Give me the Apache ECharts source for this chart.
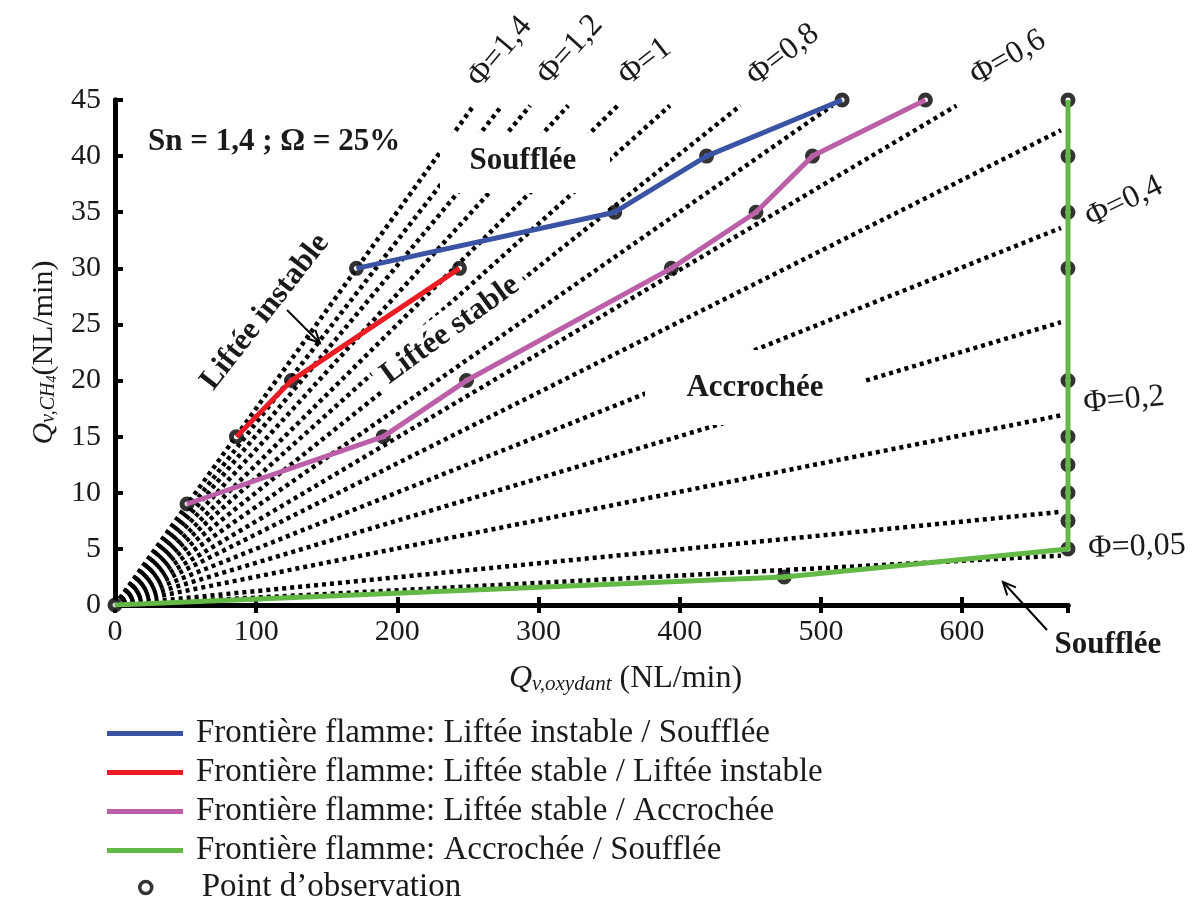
<!DOCTYPE html>
<html><head><meta charset="utf-8">
<script src="https://cdn.jsdelivr.net/npm/echarts@6/dist/echarts.min.js"></script>
<style>html,body{margin:0;padding:0;background:#fff}#c{width:1195px;height:901px}</style>
</head><body><div id="c"></div>
<script>
// ---------- axes ----------
const xMin = 0, xMax = 675, xStep = 100;
const yMin = 0, yMax = 45, yStep = 5;

// ---------- flame boundaries ----------
const blueX = [171, 354, 419, 515];
const blueY = [30, 35, 40, 45];
const redX = [86, 125, 244];
const redY = [15, 20, 30];
const pinkX = [51, 190, 249, 394, 454, 494, 574];
const pinkY = [9, 15, 20, 30, 35, 40, 45];
const greenX = [0, 474, 675, 675];
const greenY = [0, 2.5, 5, 45];
// extra observation points (on the green vertical boundary)
const obsExtraX = [675, 675, 675, 675, 675, 675, 675, 675];
const obsExtraY = [7.5, 10, 12.5, 15, 20, 30, 35, 40];

// ---------- equivalence-ratio lines (end points) ----------
const phiValues = [1.4, 1.3, 1.2, 1.1, 1.0, 0.9, 0.8, 0.7, 0.6, 0.5, 0.4, 0.3, 0.2, 0.1, 0.05];
const phiEndX = [254, 274, 294, 321, 356, 393, 443, 508, 596, 670, 670, 670, 670, 670, 670];
const phiEndY = [44.5, 44.5, 44.5, 44.5, 44.5, 44.5, 44.5, 44.5, 44.5, 42.3, 33.6, 25.2, 16.9, 8.3, 4.4];

// ---------- texts ----------
const seriesNames = [
  'Frontière flamme: Liftée instable / Soufflée',
  'Frontière flamme: Liftée stable / Liftée instable',
  'Frontière flamme: Liftée stable / Accrochée',
  'Frontière flamme: Accrochée / Soufflée'
];
const obsName = 'Point d’observation';
const colors = ['#3a53a4', '#ec1c24', '#bb5fa8', '#62b946'];

const serif = '"Liberation Serif","Times New Roman","DejaVu Serif",serif';
const ink = '#1a1a1a';

const zip = (xs, ys) => xs.map((x, i) => [x, ys[i]]);

const series = [];
phiValues.forEach((p, i) => {
  series.push({
    type: 'line', name: 'phi' + p, data: [[0, 0], [phiEndX[i], phiEndY[i]]],
    symbol: 'none', silent: true, z: 1, animation: false,
    lineStyle: { color: '#000', width: 4.5, type: [4, 4], cap: 'butt' }
  });
});
// observation points
const obsPts = [].concat(zip(blueX, blueY), zip(redX, redY), zip(pinkX, pinkY), zip(greenX, greenY), zip(obsExtraX, obsExtraY));
series.push({
  type: 'scatter', name: obsName, data: obsPts, symbol: 'circle', symbolSize: 10, z: 4,
  itemStyle: { color: '#fff', borderColor: '#000', borderWidth: 5 }, animation: false
});
[[blueX, blueY], [redX, redY], [pinkX, pinkY], [greenX, greenY]].forEach((d, i) => {
  series.push({
    type: 'line', name: seriesNames[i], data: zip(d[0], d[1]), symbol: 'none', z: 5,
    color: colors[i], lineStyle: { color: colors[i], width: 5 }, animation: false
  });
});

function arrow(x1, y1, x2, y2) {
  const L = Math.hypot(x2 - x1, y2 - y1), ux = (x1 - x2) / L, uy = (y1 - y2) / L;
  const a = 25 * Math.PI / 180, h = 14;
  const b1 = [x2 + h * (ux * Math.cos(a) - uy * Math.sin(a)), y2 + h * (ux * Math.sin(a) + uy * Math.cos(a))];
  const b2 = [x2 + h * (ux * Math.cos(a) + uy * Math.sin(a)), y2 + h * (-ux * Math.sin(a) + uy * Math.cos(a))];
  return [
    { type: 'line', z: 6, shape: { x1, y1, x2, y2 }, style: { stroke: '#000', lineWidth: 2 } },
    { type: 'polyline', z: 6, shape: { points: [b1, [x2, y2], b2] }, style: { stroke: '#000', lineWidth: 2, fill: null } }
  ];
}
const deg = d => d * Math.PI / 180;
function txt(s, x, y, opts) {
  return Object.assign({
    type: 'text', x, y, z: 6,
    style: Object.assign({ text: s, font: '32px ' + serif, fill: ink, align: 'center', verticalAlign: 'middle' }, opts && opts.style || {})
  }, opts && opts.el || {});
}

const graphics = [
  { type: 'rect', z: 3, shape: { x: 440, y: 133, width: 170, height: 60 }, style: { fill: '#fff' } },
  { type: 'rect', z: 3, shape: { x: 645, y: 350, width: 220, height: 75 }, style: { fill: '#fff' } },
  txt('Sn = 1,4 ; Ω = 25%', 148, 142, { style: { font: 'bold 31px ' + serif, align: 'left' } }),
  txt('Soufflée', 523, 161, { style: { font: 'bold 31px ' + serif } }),
  txt('Accrochée', 755, 388, { style: { font: 'bold 31px ' + serif } }),
  txt('Liftée stable', 450, 330, { style: { font: 'bold 31px ' + serif, backgroundColor: '#fff', padding: [4, 8] }, el: { rotation: deg(36) } }),
  txt('Liftée instable', 265, 312, { style: { font: 'bold 31px ' + serif }, el: { rotation: deg(52) } }),
  txt('Soufflée', 1108, 645, { style: { font: 'bold 31px ' + serif } }),
  txt('Φ=1,4', 500, 52, { el: { rotation: deg(50) } }),
  txt('Φ=1,2', 570, 50, { el: { rotation: deg(48) } }),
  txt('Φ=1', 645, 62, { el: { rotation: deg(38) } }),
  txt('Φ=0,8', 783, 55, { el: { rotation: deg(38) } }),
  txt('Φ=0,6', 1008, 58, { el: { rotation: deg(30) } }),
  txt('Φ=0,4', 1124, 202, { el: { rotation: deg(26) } }),
  txt('Φ=0,2', 1124, 400, { el: { rotation: deg(5) } }),
  txt('Φ=0,05', 1137, 547, { el: { rotation: deg(2) } })
].concat(arrow(287, 310, 320, 343), arrow(1047, 630, 1003, 582));

const axisLine = { lineStyle: { color: '#000', width: 5 } };
const tick = { inside: true, length: 8, lineStyle: { color: '#000', width: 4 } };
const lab = { fontFamily: serif, fontSize: 30, color: ink };

const option = {
  animation: false,
  grid: { left: 115, right: 127, top: 100, bottom: 296, containLabel: false },
  xAxis: [
    {
      type: 'value', min: xMin, max: xMax, interval: xStep, position: 'bottom',
      axisLine, axisTick: tick, splitLine: { show: false },
      axisLabel: Object.assign({ margin: 12, showMaxLabel: false }, lab),
      name: '{q|Q}{s|v,oxydant}{n| (NL/min)}', nameLocation: 'middle', nameGap: 58,
      nameTextStyle: {
        fontFamily: serif, fontSize: 32, color: ink, padding: [0, 0, 0, 68],
        rich: {
          q: { fontFamily: serif, fontSize: 32, fontStyle: 'italic', color: ink },
          s: { fontFamily: serif, fontSize: 21, fontStyle: 'italic', color: ink, verticalAlign: 'bottom', lineHeight: 14 },
          n: { fontFamily: serif, fontSize: 32, color: ink }
        }
      }
    },
    {
      type: 'value', min: xMin, max: xMax, interval: xStep, position: 'top',
      axisLine, axisTick: tick, splitLine: { show: false }, axisLabel: { show: false }
    }
  ],
  yAxis: [
    {
      type: 'value', min: yMin, max: yMax, interval: yStep, position: 'left',
      axisLine, axisTick: tick, splitLine: { show: false },
      axisLabel: Object.assign({ margin: 14 }, lab),
      name: '{q|Q}{s|v,CH}{ss|4}{n|(NL/min)}', nameLocation: 'middle', nameGap: 56,
      nameTextStyle: {
        fontFamily: serif, fontSize: 30, color: ink,
        rich: {
          q: { fontFamily: serif, fontSize: 30, fontStyle: 'italic', color: ink },
          s: { fontFamily: serif, fontSize: 20, fontStyle: 'italic', color: ink, verticalAlign: 'bottom', lineHeight: 14 },
          ss: { fontFamily: serif, fontSize: 14, fontStyle: 'italic', color: ink, verticalAlign: 'bottom', lineHeight: 2 },
          n: { fontFamily: serif, fontSize: 30, color: ink }
        }
      }
    },
    {
      type: 'value', min: yMin, max: yMax, interval: yStep, position: 'right',
      axisLine, axisTick: { show: false }, splitLine: { show: false }, axisLabel: { show: false }
    }
  ],
  legend: [
    {
      data: seriesNames.map(n => ({ name: n, icon: 'rect' })),
      orient: 'vertical', left: 102, top: 712, itemWidth: 76, itemHeight: 5, itemGap: 6,
      selectedMode: false,
      textStyle: { fontFamily: serif, fontSize: 33, color: ink, padding: [0, 0, 0, 8] }
    },
    {
      data: [{ name: obsName, icon: 'circle' }],
      orient: 'vertical', left: 133, top: 866, itemWidth: 12, itemHeight: 12,
      selectedMode: false,
      itemStyle: { color: '#fff', borderColor: '#000', borderWidth: 3.5 },
      textStyle: { fontFamily: serif, fontSize: 33, color: ink, padding: [0, 0, 0, 45] }
    }
  ],
  graphic: { elements: graphics },
  series
};
const chart = echarts.init(document.getElementById('c'), null, { renderer: 'canvas' });
chart.setOption(option);
</script></body></html>
